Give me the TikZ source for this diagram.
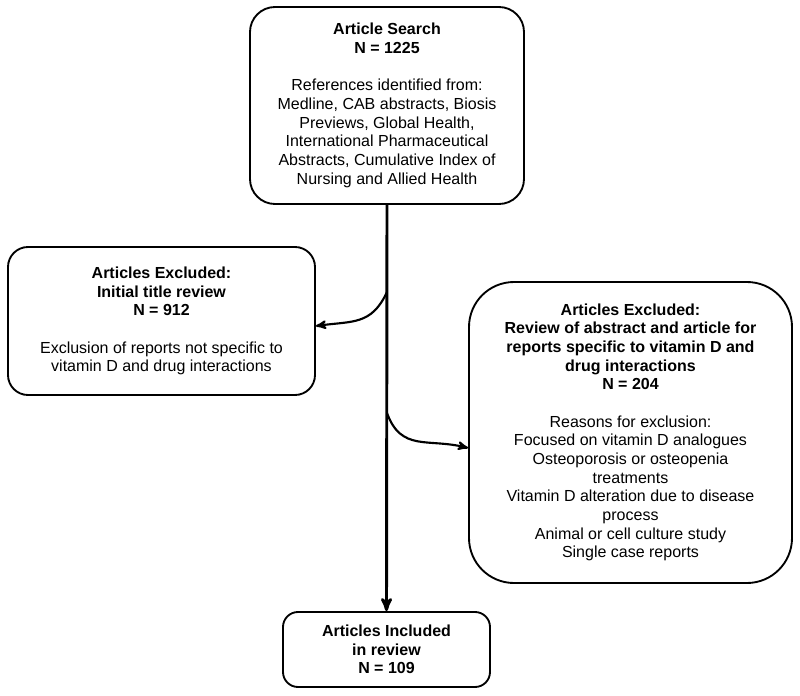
\documentclass[tikz,border=0pt]{standalone}
\usepackage{fontspec}
\setmainfont{Liberation Sans}
\usepackage{tikz}
\usetikzlibrary{arrows}
\usetikzlibrary{positioning}

\tikzset{
  stage/.style={draw,line width=1.4pt,align=center,inner sep=0pt,
    font=\fontsize{12}{14}\selectfont}
}

\begin{document}
\begin{tikzpicture}[x=0.75pt,y=-0.75pt]

  \useasboundingbox (0,0) rectangle (800,696);

  \node [stage,rounded corners=18.75pt,minimum width=205.5pt,minimum height=147.75pt] (search) at (387,105.5)
    {\textbf{Article Search}\\ \textbf{N = 1225}\\[14pt]
     References identified from:\\ Medline, CAB abstracts, Biosis\\ Previews, Global Health,\\
     International Pharmaceutical\\ Abstracts, Cumulative Index of\\ Nursing and Allied Health};

  \node [stage,rounded corners=15pt,minimum width=230.25pt,minimum height=111pt] (excl_title) at (161.5,321)
    {\textbf{Articles Excluded:}\\ \textbf{Initial title review}\\ \textbf{N = 912}\\[14pt]
     Exclusion of reports not specific to\\ vitamin D and drug interactions};

  \node [stage,rounded corners=33.75pt,minimum width=242.25pt,minimum height=225.75pt] (excl_abstract) at (630.5,432.5)
    {\textbf{Articles Excluded:}\\ \textbf{Review of abstract and article for}\\
     \textbf{reports specific to vitamin D and}\\ \textbf{drug interactions}\\ \textbf{N = 204}\\[14pt]
     Reasons for exclusion:\\ Focused on vitamin D analogues\\ Osteoporosis or osteopenia\\ treatments\\
     Vitamin D alteration due to disease\\ process\\ Animal or cell culture study\\ Single case reports};

  \node [stage,rounded corners=11.25pt,minimum width=155.25pt,minimum height=56.25pt] (included) at (386.5,649.5)
    {\textbf{Articles Included}\\ \textbf{in review}\\ \textbf{N = 109}};

  \coordinate (split_title) at (387,292);
  \coordinate (split_abstract) at (387,413);

  \path [draw,line width=2.2pt,>=stealth']
    (search.south) edge [->] (included.north);

  \path [draw,line width=1.6pt,>=stealth']
    (split_title) edge [->,out=-115,in=8,looseness=1.2] ([yshift=-3.75pt]excl_title.east)
    (split_abstract) edge [->,out=-70,in=166,looseness=1.2] ([yshift=-11.6pt]excl_abstract.west);

\end{tikzpicture}
\end{document}
